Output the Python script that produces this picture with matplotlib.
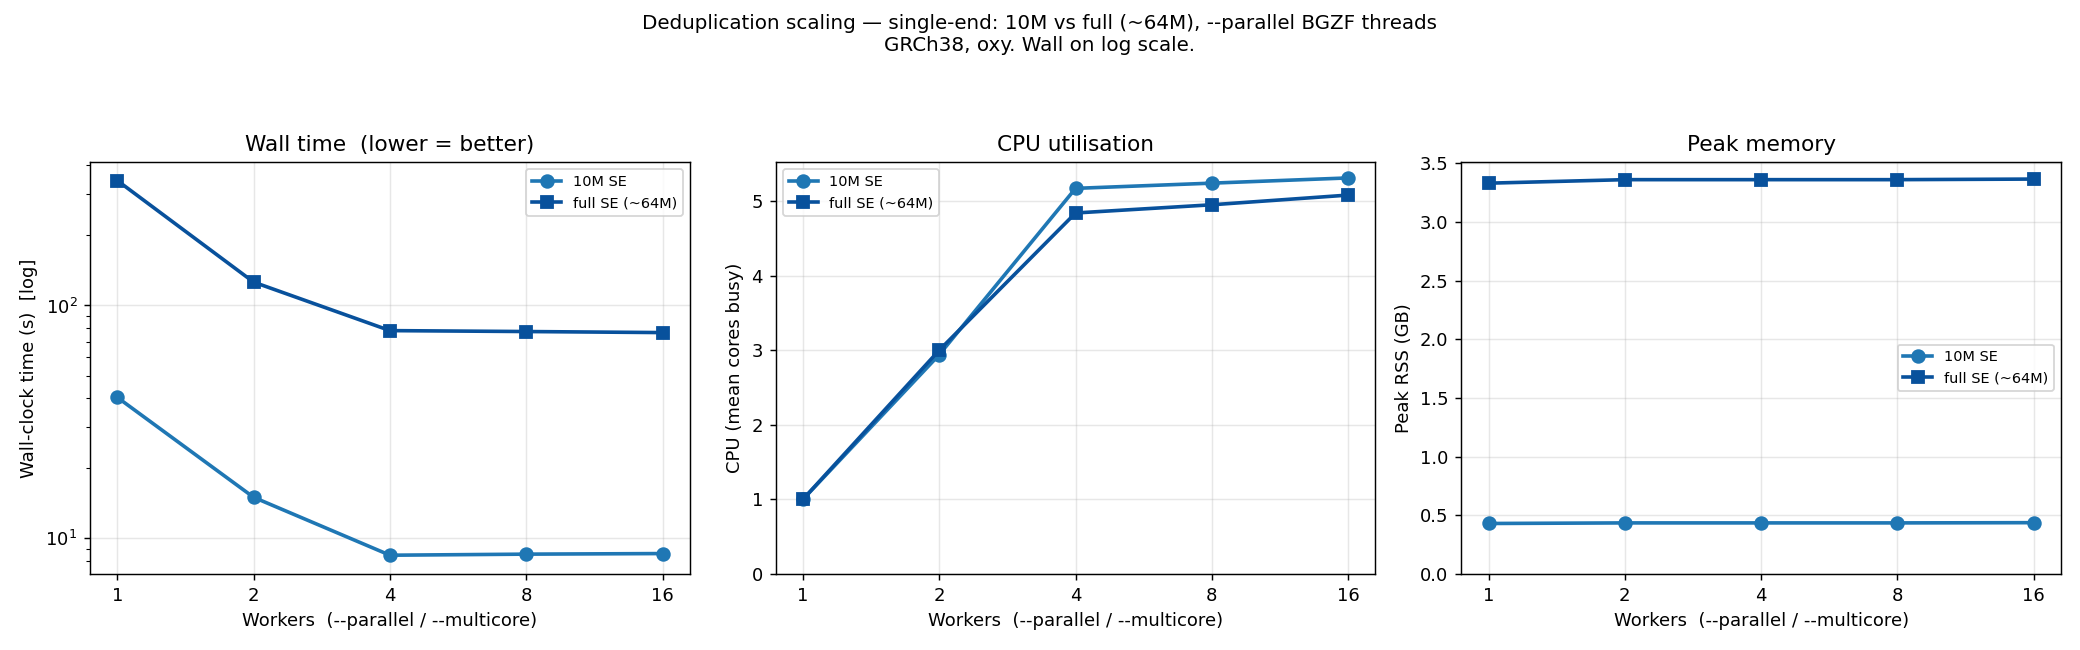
import matplotlib
matplotlib.use("Agg")
import matplotlib.pyplot as plt
from matplotlib.ticker import NullLocator

workers = [1, 2, 4, 8, 16]

wall_10m = [40.3, 15.0, 8.46, 8.55, 8.6]
wall_full = [344, 126, 78, 77.3, 76.5]

cpu_10m = [1.0, 2.94, 5.17, 5.24, 5.31]
cpu_full = [1.0, 3.0, 4.84, 4.95, 5.08]

rss_10m = [0.43, 0.435, 0.435, 0.435, 0.437]
rss_full = [3.33, 3.36, 3.36, 3.36, 3.365]

label_10m = "10M SE"
label_full = "full SE (~64M)"
c_10m = "#1f77b4"
c_full = "#08519c"

fig, axes = plt.subplots(1, 3, figsize=(16, 5), dpi=130)
fig.subplots_adjust(left=0.0433, right=0.9909, bottom=0.117, top=0.751, wspace=0.143)

panels = [
    (wall_10m, wall_full, "Wall time  (lower = better)", "Wall-clock time (s)  [log]", "upper right"),
    (cpu_10m, cpu_full, "CPU utilisation", "CPU (mean cores busy)", "upper left"),
    (rss_10m, rss_full, "Peak memory", "Peak RSS (GB)", "center right"),
]

for ax, (a, b, title, ylab, loc) in zip(axes, panels):
    ax.plot(workers, a, marker="o", color=c_10m, lw=2, ms=7, label=label_10m)
    ax.plot(workers, b, marker="s", color=c_full, lw=2, ms=7, label=label_full)
    ax.set_xscale("log", base=2)
    ax.set_xticks(workers)
    ax.set_xticklabels([str(w) for w in workers])
    ax.xaxis.set_minor_locator(NullLocator())
    ax.set_title(title, fontsize=12)
    ax.set_ylabel(ylab)
    ax.set_xlabel("Workers  (--parallel / --multicore)")
    ax.grid(True, alpha=0.3)
    ax.legend(loc=loc, fontsize=8)

axes[0].set_yscale("log")
axes[1].set_ylim(bottom=0)
axes[2].set_ylim(bottom=0)

fig.suptitle("Deduplication scaling \u2014 single-end: 10M vs full (~64M), --parallel BGZF threads\n"
             "GRCh38, oxy. Wall on log scale.", fontsize=11, y=0.978)

fig.savefig("out.png", dpi=130)
